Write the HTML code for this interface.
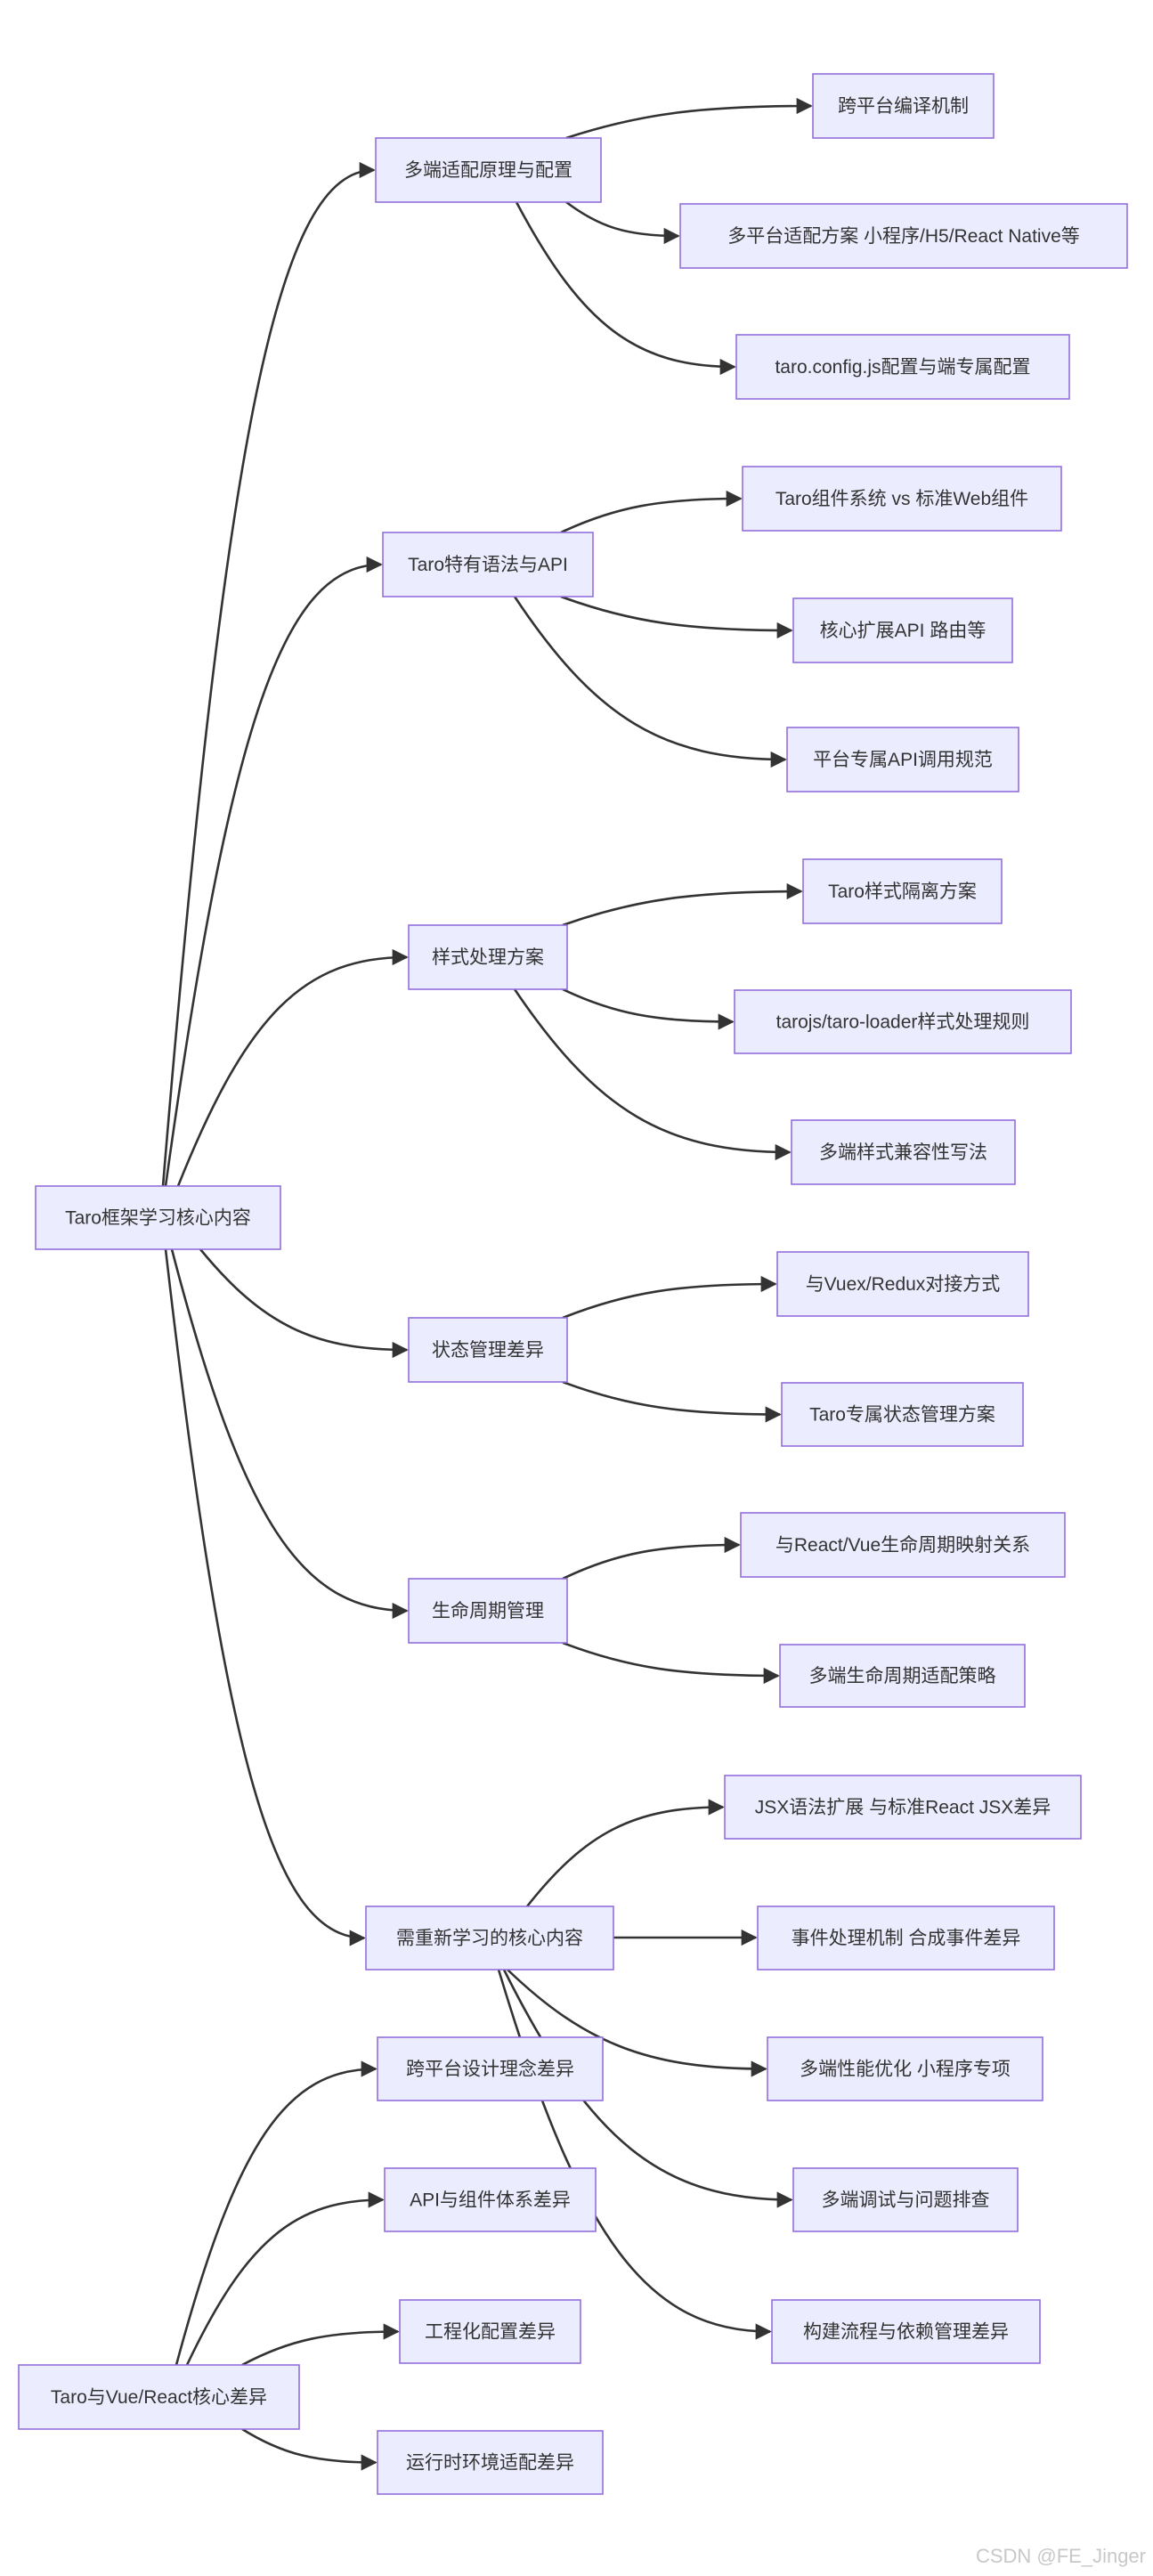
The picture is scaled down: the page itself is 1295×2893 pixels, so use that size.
<!DOCTYPE html>
<html><head><meta charset="utf-8">
<style>
html,body{margin:0;padding:0;background:#fff;}
body{width:1295px;height:2893px;overflow:hidden;position:relative;}
svg{position:absolute;left:0;top:0;}
.wm{position:absolute;right:8px;top:2858px;font:22px "Liberation Sans",sans-serif;color:#c8c8c8;}
</style></head><body>
<svg id="s" width="1295" height="2893" xmlns="http://www.w3.org/2000/svg">
<defs><marker id="ar" viewBox="0 0 10 10" refX="9" refY="5" markerWidth="7" markerHeight="7" orient="auto"><path d="M0,0 L10,5 L0,10 z" fill="#333"/></marker></defs>
<g id="e"></g><g id="n"></g>
</svg>
<div class="wm">CSDN @FE_Jinger</div>
<script>
var N=[
["Taro框架学习核心内容",40,1332,315,1403],
["多端适配原理与配置",422,155,675,227],
["Taro特有语法与API",430,598,666,670],
["样式处理方案",459,1039,637,1111],
["状态管理差异",459,1480,637,1552],
["生命周期管理",459,1773,637,1845],
["需重新学习的核心内容",411,2141,689,2212],
["跨平台编译机制",913,83,1116,155],
["多平台适配方案 小程序/H5/React Native等",764,229,1266,301],
["taro.config.js配置与端专属配置",827,376,1201,448],
["Taro组件系统 vs 标准Web组件",834,524,1192,596],
["核心扩展API 路由等",891,672,1137,744],
["平台专属API调用规范",884,817,1144,889],
["Taro样式隔离方案",902,965,1125,1037],
["tarojs/taro-loader样式处理规则",825,1112,1203,1183],
["多端样式兼容性写法",889,1258,1140,1330],
["与Vuex/Redux对接方式",873,1406,1155,1478],
["Taro专属状态管理方案",878,1553,1149,1624],
["与React/Vue生命周期映射关系",832,1699,1196,1771],
["多端生命周期适配策略",876,1847,1151,1917],
["JSX语法扩展 与标准React JSX差异",814,1994,1214,2065],
["事件处理机制 合成事件差异",851,2141,1184,2212],
["多端性能优化 小程序专项",862,2288,1171,2359],
["多端调试与问题排查",891,2435,1143,2506],
["构建流程与依赖管理差异",867,2583,1168,2654],
["Taro与Vue/React核心差异",21,2656,336,2728],
["跨平台设计理念差异",424,2288,677,2359],
["API与组件体系差异",432,2435,669,2506],
["工程化配置差异",449,2583,652,2654],
["运行时环境适配差异",424,2730,677,2801]
];
// edges: [sx,sy,targetIndex]
var E=[
[183,1332,1],[186,1332,2],[200,1332,3],[225,1403,4],[193,1403,5],[186,1403,6],
[636,155,7],[636,227,8],[580,227,9],
[630,598,10],[630,670,11],[578,670,12],
[632,1039,13],[632,1111,14],[578,1111,15],
[632,1480,16],[632,1552,17],
[632,1773,18],[632,1845,19],
[592,2141,20],[570,2212,22],[566,2212,23],[560,2212,24],
[198,2656,26],[210,2656,27],[272,2656,28],[272,2728,29]
];
var ns="http://www.w3.org/2000/svg";
var eg=document.getElementById("e"),ng=document.getElementById("n");
function el(t,a,p){var x=document.createElementNS(ns,t);for(var k in a)x.setAttribute(k,a[k]);p.appendChild(x);return x;}
E.forEach(function(d){
 var t=N[d[2]],sx=d[0],sy=d[1],ex=t[1]-2,ey=(t[2]+t[4])/2;
 var p="M"+sx+","+sy+" C"+(sx+(ex-sx)*0.3)+","+(sy+(ey-sy)*0.75)+" "+(sx+(ex-sx)*0.55)+","+ey+" "+ex+","+ey;
 el("path",{d:p,fill:"none",stroke:"#333","stroke-width":2.6,"marker-end":"url(#ar)"},eg);
});
el("path",{d:"M689,2176 L849,2176",fill:"none",stroke:"#333","stroke-width":2.6,"marker-end":"url(#ar)"},eg);
N.forEach(function(n){
 el("rect",{x:n[1],y:n[2],width:n[3]-n[1],height:n[4]-n[2],fill:"#ECECFF",stroke:"#9370DB","stroke-width":1.6},ng);
 var t=el("text",{x:(n[1]+n[3])/2,y:(n[2]+n[4])/2+7,"text-anchor":"middle","font-family":"Liberation Sans, Noto Sans CJK SC, sans-serif","font-size":21,fill:"#333"},ng);
 t.textContent=n[0];
});
</script>
</body></html>
